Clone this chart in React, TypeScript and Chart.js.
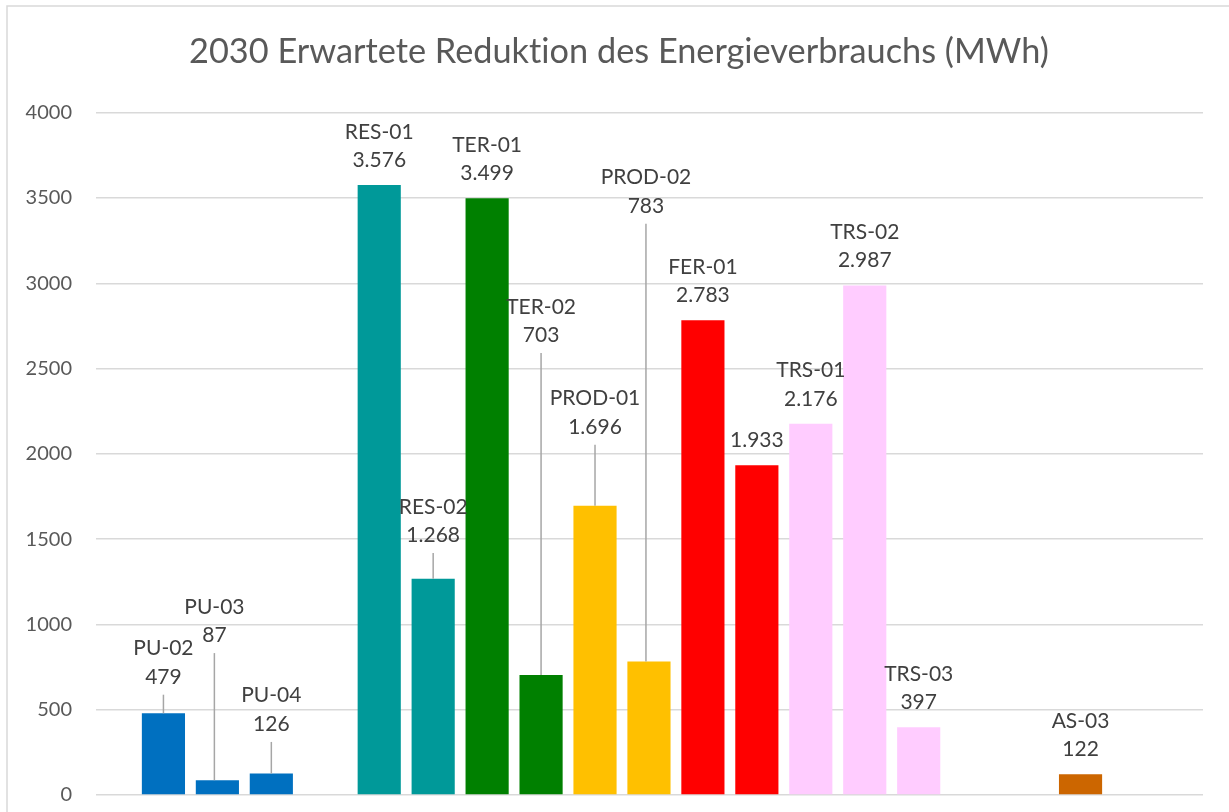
import React, { useEffect, useRef } from "react";
import { Chart, registerables } from "chart.js";

Chart.register(...registerables);

// ---- data ----
const TITLE = "2030 Erwartete Reduktion des Energieverbrauchs (MWh)";
// slot order along the x axis; null values are empty slots
const categories: string[] = [
  "PU-02", "PU-03", "PU-04", "",
  "RES-01", "RES-02", "TER-01", "TER-02", "PROD-01", "PROD-02",
  "FER-01", "", "TRS-01", "TRS-02", "TRS-03", "", "", "AS-03",
];
const values: (number | null)[] = [
  479, 87, 126, null,
  3576, 1268, 3499, 703, 1696, 783,
  2783, 1933, 2176, 2987, 397, null, null, 122,
];
const yTicks = [0, 500, 1000, 1500, 2000, 2500, 3000, 3500, 4000];

// ---- styles ----
const barColors: (string | null)[] = [
  "#0070C0", "#0070C0", "#0070C0", null,
  "#009999", "#009999", "#008000", "#008000", "#FFC000", "#FFC000",
  "#FF0000", "#FF0000", "#FFCCFF", "#FFCCFF", "#FFCCFF", null, null, "#CC6600",
];
// labels moved away from their bar (value on the y axis where the label box sits)
const labelAt: (number | null)[] = [
  547, 791, 270, null,
  null, 1377, null, 2550, 2013, 3308,
  null, null, null, null, null, null, null, null,
];
const labelDx: number[] = [
  0, -3, 0, 0, 0, 0, 0, 0, 0, -3, 0, 0, 0, 0, 0, 0, 0, 0,
];

const FONT = "Lato";

function fmt(v: number): string {
  const s = Math.round(v).toString();
  return s.replace(/\B(?=(\d{3})+(?!\d))/g, ".");
}

const frame = {
  id: "frame",
  beforeDraw(chart: any) {
    const ctx = chart.ctx;
    try {
      ctx.textRendering = "optimizeSpeed";
    } catch (e) {}
    ctx.save();
    ctx.fillStyle = "#ffffff";
    ctx.fillRect(0, 0, chart.width, chart.height);
    ctx.strokeStyle = "#d9d9d9";
    ctx.lineWidth = 1.5;
    ctx.strokeRect(7, 6, chart.width + 20, chart.height + 20);
    // chart title, centred on the framed chart box
    ctx.font = `34.3px ${FONT}`;
    ctx.fillStyle = "#595959";
    ctx.textAlign = "center";
    ctx.textBaseline = "alphabetic";
    ctx.fillText(TITLE, (7 + chart.width) / 2 + 1, 62.7);
    ctx.restore();
  },
};

const barLabels = {
  id: "barLabels",
  afterDatasetsDraw(chart: any) {
    const ctx = chart.ctx;
    const yScale = chart.scales.y;
    const meta = chart.getDatasetMeta(0);
    const pts = chart.data.datasets[0].data as any[];
    ctx.save();
    ctx.font = `21px ${FONT}`;
    ctx.fillStyle = "#404040";
    ctx.textAlign = "center";
    ctx.textBaseline = "alphabetic";
    meta.data.forEach((el: any, k: number) => {
      const slot = pts[k].slot as number;
      const v = values[slot] as number;
      const anchor = labelAt[slot];
      const topPx = el.y;
      const boxBottom = anchor == null ? topPx : yScale.getPixelForValue(anchor);
      const lx = el.x + labelDx[slot];
      const base = boxBottom - 18;
      ctx.fillText(fmt(v), lx, base);
      if (categories[slot]) ctx.fillText(categories[slot], lx, base - 28.5);
      if (anchor != null) {
        ctx.strokeStyle = "#a6a6a6";
        ctx.lineWidth = 1.5;
        ctx.beginPath();
        ctx.moveTo(lx, base + 11);
        ctx.lineTo(lx, topPx);
        ctx.stroke();
      }
    });
    ctx.restore();
  },
};

export default function App() {
  const ref = useRef<HTMLCanvasElement | null>(null);
  useEffect(() => {
    let chart: Chart | null = null;
    let cancelled = false;
    const make = () => {
      if (cancelled || !ref.current) return;
      const points = values
        .map((v, i) => ({ x: i, y: v, slot: i }))
        .filter((p) => p.y != null);
      chart = new Chart(ref.current, {
        type: "bar",
        data: {
          datasets: [
            {
              data: points as any,
              backgroundColor: points.map((p) => barColors[p.slot] as string),
              borderWidth: 0,
              categoryPercentage: 0.8,
              barPercentage: 1,
            },
          ],
        },
        options: {
          animation: false,
          responsive: false,
          devicePixelRatio: 1,
          layout: { padding: { left: 0, right: 26, top: 112.7, bottom: 17 } },
          plugins: {
            legend: { display: false },
            tooltip: { enabled: false },
            title: { display: false },
          },
          scales: {
            x: {
              type: "linear",
              display: false,
              min: -1.25,
              max: 19.27,
              offset: false,
            },
            y: {
              min: 0,
              max: 4000,
              afterFit: (s: any) => {
                s.width = 96;
                s.paddingTop = 0;
                s.paddingBottom = 0;
              },
              afterBuildTicks: (s: any) => {
                s.ticks = yTicks.map((v) => ({ value: v }));
              },
              ticks: {
                color: "#595959",
                font: { family: FONT, size: 20 },
                padding: 24,
                callback: (v: any) => String(v),
              },
              grid: { color: "#d9d9d9", lineWidth: 1.5, drawTicks: false },
              border: { display: false },
            },
          },
        },
        plugins: [frame, barLabels],
      });
    };
    if ((document as any).fonts && (document as any).fonts.load) {
      Promise.all([
        (document as any).fonts.load(`20px ${FONT}`),
        (document as any).fonts.load(`34px ${FONT}`),
      ]).then(make, make);
    } else make();
    return () => {
      cancelled = true;
      if (chart) chart.destroy();
    };
  }, []);
  return (
    <div style={{ position: "absolute", left: 0, top: 0, width: 1229, height: 812 }}>
      <canvas ref={ref} width={1229} height={812} />
    </div>
  );
}
